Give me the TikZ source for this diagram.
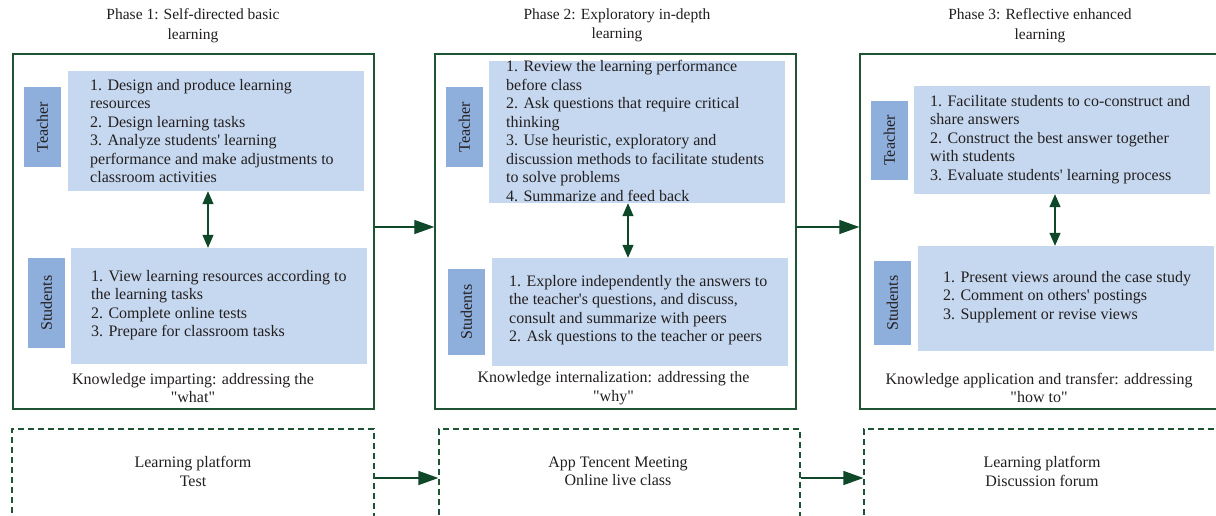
\documentclass[tikz,border=0pt]{standalone}
\usepackage{fontspec}
\setmainfont{Liberation Serif}[Ligatures=TeXOff]
\usetikzlibrary{arrows.meta}
\definecolor{lblue}{RGB}{198,216,239}
\definecolor{mblue}{RGB}{142,174,219}
\definecolor{gborder}{RGB}{30,84,52}
\definecolor{garrow}{RGB}{14,72,40}
\definecolor{txtc}{RGB}{35,31,32}
\tikzset{
  panel/.style={draw=gborder, line width=1.4pt, fill=none, inner sep=0pt},
  dbox/.style={draw=gborder, line width=1.2pt, dash pattern=on 6pt off 4pt, inner sep=0pt},
  cbox/.style={fill=lblue, draw=none, inner sep=0pt, minimum width=296pt},
  lbox/.style={fill=mblue, draw=none, inner sep=0pt, minimum width=37pt},
  lbl/.style={rotate=90, text=txtc, font=\fontsize{16}{18}\selectfont, inner sep=0pt},
  txt/.style={anchor=west, align=left, text=txtc, inner sep=0pt, font=\fontsize{16}{18.5}\selectfont},
  ctxt/.style={align=center, text=txtc, inner sep=0pt, font=\fontsize{16}{18.5}\selectfont},
  ttl/.style={align=center, text=txtc, inner sep=0pt, font=\fontsize{15.5}{19.5}\selectfont},
  harr/.style={draw=garrow, line width=1.3pt, -{Triangle[length=20pt,width=14pt]}},
  varr/.style={draw=garrow, line width=1.3pt, {Triangle[length=13pt,width=11pt]}-{Triangle[length=13pt,width=11pt]}},
}
\begin{document}
\begin{tikzpicture}[x=1pt,y=-1pt]
\clip (0,0) rectangle (1216,515);
\fill[white] (0,0) rectangle (1216,515);

% titles
\node[ttl] (h1) at (193,25.5) {Phase 1: Self-directed basic\\learning};
\node[ttl] (h2) at (617,25.5) {Phase 2: Exploratory in-depth\\learning};
\node[ttl] (h3) at (1040,25.5) {Phase 3: Reflective enhanced\\learning};

% panels
\node[panel, minimum width=361pt, minimum height=355pt] (p1) at (193.5,231.5) {};
\node[panel, minimum width=361pt, minimum height=355pt] (p2) at (615.5,231.5) {};
\node[panel, minimum width=361pt, minimum height=355pt] (p3) at (1040.5,231.5) {};

% panel 1
\node[cbox, minimum height=120pt] (t1) at (216,131) {};
\node[cbox, minimum height=116pt] (s1) at (219,306) {};
\node[lbox, minimum height=80pt] (lt1) at (42.5,127) {};
\node[lbox, minimum height=90pt] (ls1) at (46.5,303) {};
\node[lbl] (lt1t) at (lt1) {Teacher};
\node[lbl] (ls1t) at (ls1) {Students};
\node[txt] (t1t) at (90,131) {1. Design and produce learning\\resources\\2. Design learning tasks\\3. Analyze students' learning\\performance and make adjustments to\\classroom activities};
\node[txt] (s1t) at (91,305) {1. View learning resources according to\\the learning tasks\\2. Complete online tests\\3. Prepare for classroom tasks};
\node[ctxt] (k1) at (193,388) {Knowledge imparting: addressing the\\"what"};

% panel 2
\node[cbox, minimum height=142pt] (t2) at (637,132) {};
\node[cbox, minimum height=108pt] (s2) at (640,312) {};
\node[lbox, minimum height=80pt] (lt2) at (464.5,127) {};
\node[lbox, minimum height=86pt] (ls2) at (466.5,312) {};
\node[lbl] (lt2t) at (lt2) {Teacher};
\node[lbl] (ls2t) at (ls2) {Students};
\node[txt] (t2t) at (506,131) {1. Review the learning performance\\before class\\2. Ask questions that require critical\\thinking\\3. Use heuristic, exploratory and\\discussion methods to facilitate students\\to solve problems\\4. Summarize and feed back};
\node[txt] (s2t) at (509,310) {1. Explore independently the answers to\\the teacher's questions, and discuss,\\consult and summarize with peers\\2. Ask questions to the teacher or peers};
\node[ctxt] (k2) at (613.5,388) {Knowledge internalization: addressing the\\"why"};

% panel 3
\node[cbox, minimum height=108pt] (t3) at (1062,140) {};
\node[cbox, minimum height=105pt] (s3) at (1066,298.5) {};
\node[lbox, minimum height=79pt] (lt3) at (889.5,140.5) {};
\node[lbox, minimum height=84pt] (ls3) at (892.5,303) {};
\node[lbl] (lt3t) at (lt3) {Teacher};
\node[lbl] (ls3t) at (ls3) {Students};
\node[txt] (t3t) at (930,139.5) {1. Facilitate students to co-construct and\\share answers\\2. Construct the best answer together\\with students\\3. Evaluate students' learning process};
\node[txt] (s3t) at (943,297) {1. Present views around the case study\\2. Comment on others' postings\\3. Supplement or revise views};
\node[ctxt] (k3) at (1039,388) {Knowledge application and transfer: addressing\\"how to"};

% vertical double arrows
\coordinate (c1) at (208,0);
\coordinate (c2) at (628,0);
\coordinate (c3) at (1055,0);
\draw[varr] (t1.south -| c1) -- (s1.north -| c1);
\draw[varr] (t2.south -| c2) -- (s2.north -| c2);
\draw[varr] (t3.south -| c3) -- (s3.north -| c3);

% arrows between panels
\draw[harr] ([yshift=4.5pt]p1.east) -- ([yshift=4.5pt]p2.west);
\draw[harr] ([yshift=4.5pt]p2.east) -- ([yshift=4.5pt]p3.west);

% dashed boxes
\node[dbox, minimum width=362pt, minimum height=98pt] (d1) at (193,478) {};
\node[dbox, minimum width=361pt, minimum height=98pt] (d2) at (619.5,478) {};
\node[dbox, minimum width=361pt, minimum height=98pt] (d3) at (1044.5,478) {};
\node[ctxt] (d1t) at (193,471.5) {Learning platform\\Test};
\node[ctxt] (d2t) at (618,471.5) {App Tencent Meeting\\Online live class};
\node[ctxt] (d3t) at (1042,471.5) {Learning platform\\Discussion forum};
\draw[harr] (d1.east) -- (d2.west);
\draw[harr] (d2.east) -- (d3.west);
\end{tikzpicture}
\end{document}
